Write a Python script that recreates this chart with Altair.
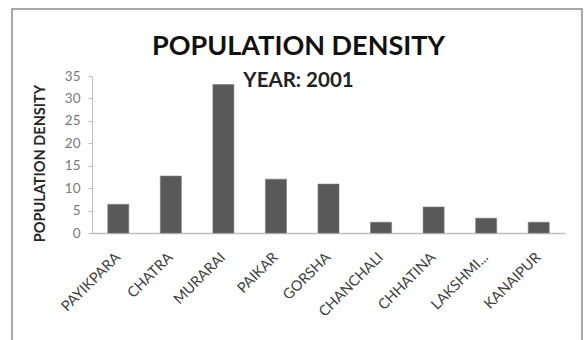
import altair as alt
import pandas as pd

places = ["PAYIKPARA", "CHATRA", "MURARAI", "PAIKAR", "GORSHA",
          "CHANCHALI", "CHHATINA", "LAKSHMI...", "KANAIPUR"]
density = [6.4, 12.7, 33.1, 12.0, 10.9, 2.4, 5.8, 3.3, 2.4]

df = pd.DataFrame({"place": places, "density": density})

FONT = "Lato"

frame = alt.Chart(pd.DataFrame({"k": [0]})).mark_rect(
    fill=None, stroke="#8c8c8c", strokeWidth=1.5, clip=False
).encode(
    x=alt.value(-80), x2=alt.value(490), y=alt.value(-67), y2=alt.value(345)
)

bars = alt.Chart(df).mark_bar(color="#595959", stroke="#7a7a7a", strokeWidth=0.6).encode(
    x=alt.X("place:N", sort=places, title=None,
            scale=alt.Scale(paddingInner=0.6, paddingOuter=0.3),
            axis=alt.Axis(labelAngle=-45, labelAlign="right", labelBaseline="middle",
                          labelFontSize=14.5, labelColor="#404040", labelFont=FONT,
                          labelFontWeight="normal", ticks=False, domainColor="#bfbfbf",
                          domainWidth=1.5, labelPadding=22, labelLimit=0)),
    y=alt.Y("density:Q", title="POPULATION DENSITY",
            scale=alt.Scale(domain=[0, 35], nice=False),
            axis=alt.Axis(values=[0, 5, 10, 15, 20, 25, 30, 35], grid=False,
                          labelFontSize=13.5, labelColor="#7a7a7a", labelFont=FONT,
                          tickColor="#bfbfbf", tickSize=4, domainColor="#bfbfbf",
                          titleFont=FONT, titleFontSize=14.5, titleFontWeight="bold",
                          titleColor="#262626", titlePadding=17, titleY=87,
                          labelPadding=8)),
)

chart = alt.layer(frame, bars).properties(
    width=473, height=157, background="white",
    title=alt.TitleParams(
        text="POPULATION DENSITY", subtitle="YEAR: 2001",
        font=FONT, fontSize=27, fontWeight="bold", color="#111111",
        subtitleFont=FONT, subtitleFontSize=20.5, subtitleFontWeight="bold",
        subtitleColor="#222222", subtitlePadding=10, anchor="middle",
        frame="group", dx=-30, offset=-84,
    ),
    autosize=alt.AutoSizeParams(type="none"),
    padding={"left": 92, "top": 76, "right": 20, "bottom": 107},
).configure_view(stroke="transparent", strokeWidth=0)

chart.save("out.html", embed_options={"renderer": "svg", "actions": False})
